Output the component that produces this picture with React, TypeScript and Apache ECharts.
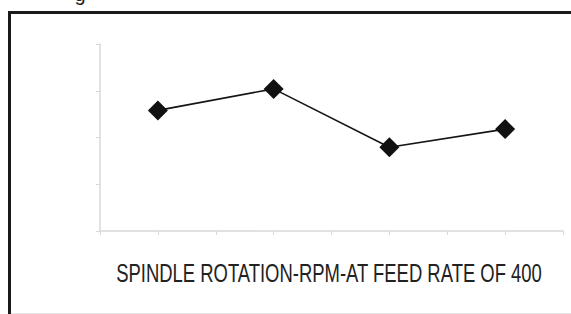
import React, { useEffect, useRef } from "react";
import * as echarts from "echarts";

const categories = ["1", "2", "3", "4"];
const values = [2.58, 3.04, 1.79, 2.18];
const axisTitle = "SPINDLE ROTATION-RPM-AT FEED RATE OF 400";

export default function App() {
  const ref = useRef<HTMLDivElement>(null);
  useEffect(() => {
    document.body.style.margin = "0";
    const chart = echarts.init(ref.current!, null, { renderer: "svg" });
    const data = categories.map((c, i) => [i + 1, values[i]]);
    chart.setOption({
      animation: false,
      backgroundColor: "#ffffff",
      grid: { left: 100, right: 8, top: 44, bottom: 83 },
      xAxis: {
        type: "value",
        min: 0.5,
        max: 4.5,
        interval: 0.5,
        axisLine: { show: true, lineStyle: { color: "#d8d8d8", width: 1.5 } },
        axisTick: { show: true, length: 4, lineStyle: { color: "#d8d8d8" } },
        axisLabel: { show: false },
        splitLine: { show: false },
      },
      yAxis: {
        type: "value",
        min: 0,
        max: 4,
        interval: 1,
        axisLine: { show: true, lineStyle: { color: "#d8d8d8", width: 1.5 } },
        axisTick: { show: true, length: 4, lineStyle: { color: "#d8d8d8" } },
        axisLabel: { show: false },
        splitLine: { show: false },
      },
      series: [
        {
          type: "line",
          data,
          symbol: "diamond",
          symbolSize: 20,
          lineStyle: { color: "#151515", width: 1.6 },
          itemStyle: { color: "#111111" },
        },
      ],
      graphic: [
        {
          type: "rect",
          shape: { x: 8, y: 11, width: 563, height: 3 },
          style: { fill: "#1a1a1a" },
          silent: true,
        },
        {
          type: "rect",
          shape: { x: 8, y: 11, width: 3, height: 303 },
          style: { fill: "#1a1a1a" },
          silent: true,
        },
        {
          type: "line",
          shape: { x1: 11, y1: 313.5, x2: 571, y2: 313.5 },
          style: { stroke: "#e6e6e6", lineWidth: 1 },
          silent: true,
        },
        {
          type: "text",
          x: 80,
          y: -6,
          style: {
            text: "g",
            font: '20px "Liberation Sans", Arial, sans-serif',
            fill: "#222",
            align: "center",
            verticalAlign: "middle",
          },
          silent: true,
        },
        {
          type: "text",
          x: 329,
          y: 273,
          scaleX: 0.71,
          style: {
            text: axisTitle,
            font: '26px "Liberation Sans", Arial, sans-serif',
            fill: "#222",
            align: "center",
            verticalAlign: "middle",
          },
          silent: true,
        },
      ],
    });
    return () => chart.dispose();
  }, []);
  return (
    <div
      ref={ref}
      style={{ position: "fixed", left: 0, top: 0, width: 571, height: 314 }}
    />
  );
}
